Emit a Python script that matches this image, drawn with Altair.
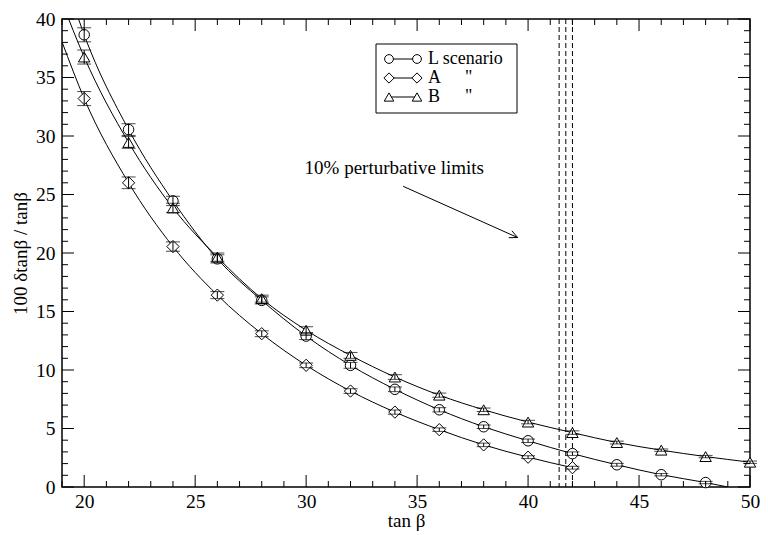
import altair as alt
import pandas as pd

# ---- data ----
tb_L = [20, 22, 24, 26, 28, 30, 32, 34, 36, 38, 40, 42, 44, 46, 48]
L_val = [38.65, 30.55, 24.45, 19.5, 15.95, 12.9, 10.4, 8.35, 6.6, 5.15, 3.95, 2.85, 1.9, 1.05, 0.38]
L_err = [0.6, 0.5, 0.4, 0.35, 0.3, 0.3, 0.25, 0.2, 0.18, 0.15, 0.15, 0.15, 0.12, 0.1, 0.1]

tb_A = [20, 22, 24, 26, 28, 30, 32, 34, 36, 38, 40, 42]
A_val = [33.2, 26.0, 20.55, 16.4, 13.1, 10.4, 8.2, 6.4, 4.9, 3.6, 2.55, 1.65]
A_err = [0.6, 0.5, 0.4, 0.3, 0.25, 0.2, 0.2, 0.18, 0.15, 0.15, 0.12, 0.12]

tb_B = [20, 22, 24, 26, 28, 30, 32, 34, 36, 38, 40, 42, 44, 46, 48, 50]
B_val = [36.75, 29.45, 23.85, 19.65, 16.1, 13.4, 11.25, 9.4, 7.85, 6.6, 5.55, 4.65, 3.8, 3.15, 2.6, 2.12]
B_err = [0.6, 0.5, 0.4, 0.35, 0.3, 0.3, 0.25, 0.2, 0.18, 0.15, 0.15, 0.15, 0.12, 0.1, 0.1, 0.1]

# fitted curves: where they leave the frame
L_fit_start = (19.0, 44.3)
L_fit_end = (49.0, 0.0)
A_fit_start = (19.0, 38.05)
B_fit_start = (19.0, 41.45)

limits = [41.4, 41.7, 42.0]
note_text = "10% perturbative limits"
note_pos = (29.93, 27.3)
arrow_x = [34.37, 39.53]
arrow_y = [25.70, 21.32]
head1_x = [39.27, 39.53]
head1_y = [21.90, 21.32]
head2_x = [39.13, 39.53]
head2_y = [21.31, 21.32]

legend_labels = ["L scenario", "A", "B"]
shapes = ["circle", "diamond", "triangle-up"]
sizes = [110, 150, 130]

x_major = [20, 25, 30, 35, 40, 45, 50]
y_major = [0, 5, 10, 15, 20, 25, 30, 35, 40]

W, H = 688, 468
FONT = "Liberation Serif"

xs = alt.Scale(domain=[19, 50], nice=False, zero=False)
ys = alt.Scale(domain=[0, 40], nice=False, zero=False)
common = dict(ticks=False, grid=False, domain=False, labelFont=FONT, titleFont=FONT,
              labelColor="black", titleColor="black", titleFontWeight="normal",
              labelFontSize=19.5, titleFontSize=19, labelFlush=False)
x_axis = alt.Axis(values=x_major, labelPadding=5, title="tan β", titlePadding=1, **common)
y_axis = alt.Axis(values=y_major, labelPadding=7, title="100 δtanβ / tanβ", titlePadding=5,
                  **common)


def X(f):
    return alt.X(f, scale=xs, axis=x_axis, title="tan β")


def Y(f):
    return alt.Y(f, scale=ys, axis=y_axis, title="100 δtanβ / tanβ")


pts = pd.concat([
    pd.DataFrame({"s": "L", "x": tb_L, "y": L_val, "e": L_err}),
    pd.DataFrame({"s": "A", "x": tb_A, "y": A_val, "e": A_err}),
    pd.DataFrame({"s": "B", "x": tb_B, "y": B_val, "e": B_err}),
], ignore_index=True)
pts["lo"] = pts["y"] - pts["e"]
pts["hi"] = pts["y"] + pts["e"]

curves = pd.concat([
    pd.DataFrame({"s": "L", "x": [L_fit_start[0]] + tb_L + [L_fit_end[0]],
                  "y": [L_fit_start[1]] + L_val + [L_fit_end[1]]}),
    pd.DataFrame({"s": "A", "x": [A_fit_start[0]] + tb_A, "y": [A_fit_start[1]] + A_val}),
    pd.DataFrame({"s": "B", "x": [B_fit_start[0]] + tb_B, "y": [B_fit_start[1]] + B_val}),
], ignore_index=True)

layers = [alt.Chart(curves).mark_line(
    clip=True, interpolate="monotone", color="black", strokeWidth=1
).encode(x=X("x:Q"), y=Y("y:Q"), detail="s:N")]

# dashed limits
lim_df = pd.DataFrame({"x": limits})
layers.append(alt.Chart(lim_df).mark_rule(color="black", strokeDash=[5, 3], strokeWidth=1)
              .encode(x=X("x:Q")))

# markers
for s, shp, sz in zip(["L", "A", "B"], shapes, sizes):
    layers.append(alt.Chart(pts[pts.s == s]).mark_point(
        shape=shp, size=sz, filled=True, fill="white", stroke="black",
        strokeWidth=1, opacity=1, fillOpacity=1
    ).encode(x=X("x:Q"), y=Y("y:Q")))

# error bars
layers.append(alt.Chart(pts).mark_rule(color="black", strokeWidth=1).encode(
    x=X("x:Q"), y=Y("lo:Q"), y2="hi:Q"))
for f in ["lo", "hi"]:
    layers.append(alt.Chart(pts).mark_tick(color="black", orient="horizontal", size=14,
                                           thickness=1).encode(x=X("x:Q"), y=Y(f + ":Q")))

# annotation
layers.append(alt.Chart(pd.DataFrame({"x": [note_pos[0]], "y": [note_pos[1]], "t": [note_text]}))
              .mark_text(align="left", baseline="middle", font=FONT, fontSize=19, color="black")
              .encode(x=X("x:Q"), y=Y("y:Q"), text="t:N"))
for ax, ay in [(arrow_x, arrow_y), (head1_x, head1_y), (head2_x, head2_y)]:
    layers.append(alt.Chart(pd.DataFrame({"x": ax, "y": ay})).mark_line(color="black", strokeWidth=1)
                  .encode(x=X("x:Q"), y=Y("y:Q")))

# inward ticks on all four sides
one = pd.DataFrame({"a": [0]})
x_minor = [v for v in range(19, 51) if v % 5 != 0]
y_minor = [v for v in range(0, 41) if v % 5 != 0]
for vals, ln in [(x_major, 12), (x_minor, 6)]:
    d = pd.DataFrame({"x": vals})
    layers.append(alt.Chart(d).mark_rule(color="black", strokeWidth=1).encode(
        x=X("x:Q"), y=alt.value(H), y2=alt.value(H - ln)))
    layers.append(alt.Chart(d).mark_rule(color="black", strokeWidth=1).encode(
        x=X("x:Q"), y=alt.value(0), y2=alt.value(ln)))
for vals, ln in [(y_major, 12), (y_minor, 6)]:
    d = pd.DataFrame({"y": vals})
    layers.append(alt.Chart(d).mark_rule(color="black", strokeWidth=1).encode(
        y=Y("y:Q"), x=alt.value(0), x2=alt.value(ln)))
    layers.append(alt.Chart(d).mark_rule(color="black", strokeWidth=1).encode(
        y=Y("y:Q"), x=alt.value(W), x2=alt.value(W - ln)))

# legend box
bx0, bx1, by0, by1 = 314, 455, 25, 94
layers.append(alt.Chart(one).mark_rect(fill="white", stroke="black", strokeWidth=1).encode(
    x=alt.value(bx0), x2=alt.value(bx1), y=alt.value(by0), y2=alt.value(by1)))
row_y = [40, 59, 78]
m1, m2, tx, dx = 327, 355, 366, 403
for lab, shp, sz, ry in zip(legend_labels, shapes, sizes, row_y):
    layers.append(alt.Chart(one).mark_rule(color="black", strokeWidth=1).encode(
        x=alt.value(m1), x2=alt.value(m2), y=alt.value(ry)))
    for mx in (m1, m2):
        layers.append(alt.Chart(one).mark_point(
            shape=shp, size=sz * 0.7, filled=True, fill="white", stroke="black",
            strokeWidth=1, opacity=1).encode(x=alt.value(mx), y=alt.value(ry)))
    layers.append(alt.Chart(pd.DataFrame({"t": [lab]})).mark_text(
        align="left", baseline="middle", font=FONT, fontSize=18, color="black").encode(
        x=alt.value(tx), y=alt.value(ry), text="t:N"))
    if lab != legend_labels[0]:
        layers.append(alt.Chart(pd.DataFrame({"t": ['"']})).mark_text(
            align="left", baseline="middle", font=FONT, fontSize=18, color="black").encode(
            x=alt.value(dx), y=alt.value(ry), text="t:N"))

chart = alt.layer(*layers).properties(
    width=W, height=H,
    autosize=alt.AutoSizeParams(type="none"),
    padding={"left": 54, "top": 11, "right": 10, "bottom": 45},
    background="white",
).configure_view(stroke="black", strokeWidth=1.5)

chart.save("out.html", embed_options={"renderer": "svg", "actions": False})
